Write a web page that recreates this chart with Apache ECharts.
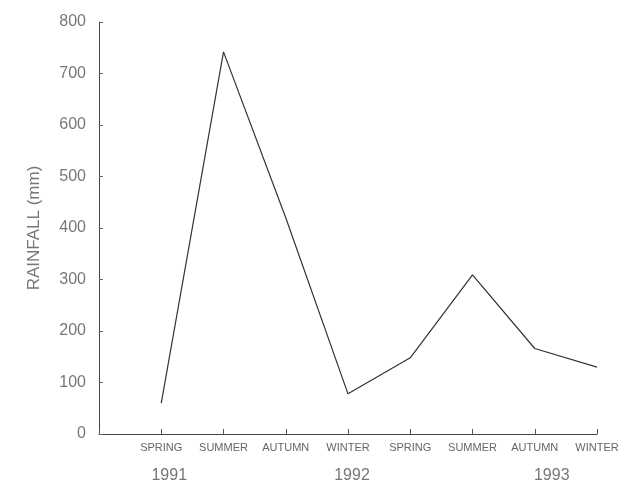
<!DOCTYPE html>
<html>
<head>
<meta charset="utf-8">
<script src="https://cdn.jsdelivr.net/npm/echarts@6/dist/echarts.min.js"></script>
<style>html,body{margin:0;padding:0;background:#fff;}#c{width:622px;height:486px;}</style>
</head>
<body>
<div id="c"></div>
<script>
var seasons = ['SPRING','SUMMER','AUTUMN','WINTER','SPRING','SUMMER','AUTUMN','WINTER'];
var yearLabels = {0:'1991', 3:'1992', 6:'1993'};
var rainfall = [60, 742, 420, 78, 148, 309, 166, 130];
var yTicks = [0,100,200,300,400,500,600,700,800];

var yearShift = {0:16, 3:8, 6:34};
var points = rainfall.map(function(v,i){return [i,v];});

var font = 'Liberation Sans, Arial, sans-serif';
var rich = {
  s:{fontSize:11, lineHeight:16, color:'#666', fontFamily:font},
  y:{fontSize:16, lineHeight:40, color:'#777', fontFamily:font}
};
Object.keys(yearShift).forEach(function(k){
  rich['y'+k] = {fontSize:16, lineHeight:40, color:'#777', fontFamily:font, padding:[0,0,0,yearShift[k]]};
});

var chart = echarts.init(document.getElementById('c'));
chart.setOption({
  animation:false,
  backgroundColor:'#fff',
  grid:{left:99, right:25, top:22, bottom:52, containLabel:false},
  xAxis:{
    type:'value', min:-1, max:seasons.length-1, interval:1,
    splitLine:{show:false},
    axisLine:{show:true, lineStyle:{color:'#444', width:1}},
    axisTick:{show:true, inside:true, length:5, lineStyle:{color:'#555'}},
    axisLabel:{
      showMinLabel:true, showMaxLabel:true, margin:6,
      color:'#666', fontFamily:font,
      formatter:function(v){
        var i = Math.round(v);
        if(i<0 || i>=seasons.length) return '';
        var s = '{s|'+seasons[i]+'}';
        if(yearLabels[i]) s += '\n{y'+i+'|'+yearLabels[i]+'}';
        else s += '\n{y| }';
        return s;
      },
      rich:rich
    }
  },
  yAxis:{
    type:'value', min:yTicks[0], max:yTicks[yTicks.length-1], interval:100,
    name:'RAINFALL (mm)', nameLocation:'middle', nameGap:56, nameRotate:90,
    nameTextStyle:{fontSize:17, color:'#777', fontFamily:font},
    splitLine:{show:false},
    axisLine:{show:true, onZero:false, lineStyle:{color:'#444', width:1}},
    axisTick:{show:true, inside:true, length:4, lineStyle:{color:'#666'}},
    axisLabel:{fontSize:16, color:'#777', margin:13, fontFamily:font}
  },
  series:[{
    type:'line', data:points, symbol:'none',
    lineStyle:{color:'#333', width:1.2}
  }]
});
</script>
</body>
</html>
